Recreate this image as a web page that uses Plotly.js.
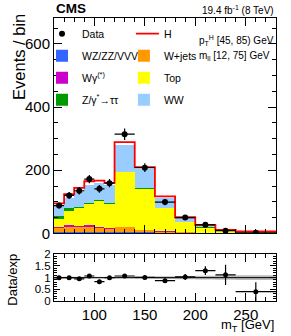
<!DOCTYPE html>
<html>
<head>
<meta charset="utf-8">
<script src="https://cdn.plot.ly/plotly-3.0.1.min.js"></script>
<style>html,body{margin:0;padding:0;background:#fff;}#chart{width:291px;height:336px;}</style>
</head>
<body>
<div id="chart"></div>
<script>
// ---- data ----
const binEdges = [60, 70, 80, 90, 100, 110, 120, 140, 160, 180, 200, 220, 240, 280];
const vvv   = [4, 4, 4, 4, 4, 4, 5, 3, 2, 1, 0.5, 0.3, 0.2];
const wjets = [13, 15, 16, 15, 12, 10, 15, 7, 3, 2, 1, 0.7, 0.3];
const wgamma= [3, 9, 4, 9, 4, 2, 1, 1, 1, 0.5, 0.5, 0, 0.1];
const topQuark = [27, 44, 56, 66, 84, 78, 172, 131, 73, 31.5, 16, 5, 2.4];
const ztt   = [9, 7, 5, 3, 3, 2, 2, 1, 1, 1, 1, 1, 1];
const ww    = [31, 34, 49, 57, 51, 56, 84, 60, 32, 12, 5, 2, 1];
const higgs = [8, 11, 10, 11, 9, 8, 10, 7, 5, 3, 2, 2, 1];
const dataY   = [88, 120, 135, 172, 141, 159, 314, 208, 99, 50, 27.5, 8.5, 2];
const dataErr = [9, 11, 12, 13, 12, 13, 18, 14, 10, 7, 5, 3, 1.5];
const ratioY   = [1.0, 1.0, 0.95, 1.07, 0.83, 1.0, 1.07, 1.01, 0.87, 1.03, 1.3, 1.12, 0.4];
const ratioErr = [0.08, 0.07, 0.07, 0.07, 0.07, 0.07, 0.05, 0.06, 0.08, 0.13, 0.19, 0.43, 0.4];
const systUnc  = [0.04, 0.04, 0.04, 0.04, 0.04, 0.04, 0.04, 0.05, 0.06, 0.07, 0.08, 0.09, 0.1];

// ---- derived ----
const centers = binEdges.slice(0, -1).map((e, i) => (e + binEdges[i + 1]) / 2);
const widths  = binEdges.slice(0, -1).map((e, i) => binEdges[i + 1] - e);
const halfW   = widths.map(w => w / 2);
const total = centers.map((_, i) => vvv[i] + wjets[i] + wgamma[i] + topQuark[i] + ztt[i] + ww[i] + higgs[i]);
const stepY = total.concat([total[total.length - 1]]);
const bandLo = systUnc.map(u => 1 - u).concat([1 - systUnc[systUnc.length - 1]]);
const bandHi = systUnc.map(u => 1 + u).concat([1 + systUnc[systUnc.length - 1]]);

const FONT = "Liberation Sans, Arial, Helvetica, sans-serif";

function bar(name, y, color, legend, rank) {
  return {
    type: 'bar', name: name, x: centers, y: y, width: widths,
    marker: { color: color, line: { width: 0 } },
    xaxis: 'x', yaxis: 'y', legend: legend, legendrank: rank, legendgroup: name,
    hoverinfo: 'skip'
  };
}

const traces = [
  bar('WZ/ZZ/VVV', vvv, '#3366ff', 'legend', 2),
  bar('W+jets', wjets, '#ff9900', 'legend2', 2),
  bar('Wγ<sup>(*)</sup>', wgamma, '#cc00cc', 'legend', 3),
  bar('Top', topQuark, '#ffff00', 'legend2', 3),
  bar('Z/γ<sup>*</sup>→ττ', ztt, '#009900', 'legend', 4),
  bar('WW', ww, '#99ccff', 'legend2', 4),
  {
    type: 'scatter', mode: 'lines', name: 'H', x: binEdges, y: stepY,
    line: { color: '#ff0000', width: 1.8, shape: 'hv' },
    xaxis: 'x', yaxis: 'y', legend: 'legend2', legendrank: 1, legendgroup: 'H'
  },
  {
    type: 'scatter', mode: 'markers', name: 'Data', x: centers, y: dataY,
    marker: { color: '#000', size: 6 },
    error_y: { type: 'data', array: dataErr, color: '#000', thickness: 1.2, width: 0 },
    error_x: { type: 'data', array: halfW, color: '#000', thickness: 1.2, width: 0 },
    xaxis: 'x', yaxis: 'y', legend: 'legend', legendrank: 1, legendgroup: 'Data'
  },
  // ratio panel
  {
    type: 'scatter', mode: 'lines', x: binEdges, y: bandLo, line: { width: 0, shape: 'hv' },
    xaxis: 'x2', yaxis: 'y2', showlegend: false, hoverinfo: 'skip'
  },
  {
    type: 'scatter', mode: 'lines', x: binEdges, y: bandHi, line: { width: 0, shape: 'hv' },
    fill: 'tonexty', fillcolor: 'rgba(140,140,140,0.6)',
    xaxis: 'x2', yaxis: 'y2', showlegend: false, hoverinfo: 'skip'
  },
  {
    type: 'scatter', mode: 'markers', x: centers, y: ratioY,
    marker: { color: '#000', size: 5 },
    error_y: { type: 'data', array: ratioErr, color: '#000', thickness: 1.2, width: 0 },
    error_x: { type: 'data', array: halfW, color: '#000', thickness: 1.2, width: 0 },
    xaxis: 'x2', yaxis: 'y2', showlegend: false
  }
];

const axBase = {
  showline: true, linecolor: '#000', linewidth: 1, mirror: 'allticks',
  ticks: 'inside', tickcolor: '#000', ticklen: 8, tickwidth: 1,
  showgrid: false, zeroline: false,
  tickfont: { family: FONT, size: 15, color: '#000' }
};

const legBase = {
  xanchor: 'left', yanchor: 'top',
  bgcolor: 'rgba(0,0,0,0)', borderwidth: 0,
  font: { family: FONT, size: 10.5, color: '#000' },
  traceorder: 'grouped', tracegroupgap: 3, itemwidth: 30, indentation: -12
};

const layout = {
  width: 291, height: 336,
  margin: { l: 54, r: 15, t: 18, b: 35 },
  paper_bgcolor: '#fff', plot_bgcolor: '#fff',
  barmode: 'stack', bargap: 0,
  showlegend: true,
  font: { family: FONT, color: '#000' },
  xaxis: Object.assign({}, axBase, {
    domain: [0, 1], anchor: 'y', range: [60, 280], tick0: 0, dtick: 50,
    showticklabels: false, matches: 'x2',
    minor: { dtick: 10, ticklen: 4, ticks: 'inside', tickcolor: '#000' }
  }),
  yaxis: Object.assign({}, axBase, {
    domain: [0.239, 1], anchor: 'x', range: [0, 682], tick0: 0, dtick: 200,
    minor: { dtick: 50, ticklen: 4, ticks: 'inside', tickcolor: '#000' }
  }),
  xaxis2: Object.assign({}, axBase, {
    domain: [0, 1], anchor: 'y2', range: [60, 280], tick0: 0, dtick: 50,
    minor: { dtick: 10, ticklen: 4, ticks: 'inside', tickcolor: '#000' }
  }),
  yaxis2: Object.assign({}, axBase, {
    domain: [0, 0.165], anchor: 'x2', range: [0, 2], tick0: 0, dtick: 0.5,
    ticklen: 6,
    tickfont: { family: FONT, size: 11.5, color: '#000' },
    minor: { dtick: 0.1, ticklen: 3, ticks: 'inside', tickcolor: '#000' }
  }),
  legend: Object.assign({}, legBase, { x: 0.0, y: 0.996 }),
  legend2: Object.assign({}, legBase, { x: 0.369, y: 0.996 }),
  shapes: [
    { type: 'line', xref: 'x2', yref: 'y2', x0: 60, x1: 280, y0: 1, y1: 1,
      line: { color: '#000', width: 1 } }
  ],
  annotations: [
    { text: '<b>CMS</b>', xref: 'paper', yref: 'paper', x: 0, y: 1, xanchor: 'left', yanchor: 'bottom',
      yshift: 0, showarrow: false, font: { family: FONT, size: 13.5, color: '#000' } },
    { text: '19.4 fb<sup>-1</sup> (8 TeV)', xref: 'paper', yref: 'paper', x: 1, y: 1, xanchor: 'right', yanchor: 'bottom',
      showarrow: false, font: { family: FONT, size: 10, color: '#000' } },
    { text: 'p<sub>T</sub><sup>H</sup> [45, 85) GeV', xref: 'paper', yref: 'paper', x: 0.645, y: 0.92,
      xanchor: 'left', yanchor: 'middle', showarrow: false, font: { family: FONT, size: 10, color: '#000' } },
    { text: 'm<sub>ll</sub> [12, 75] GeV', xref: 'paper', yref: 'paper', x: 0.645, y: 0.865,
      xanchor: 'left', yanchor: 'middle', showarrow: false, font: { family: FONT, size: 10, color: '#000' } },
    { text: 'Events / bin', xref: 'paper', yref: 'paper', x: -0.155, y: 1.02, textangle: -90,
      xanchor: 'center', yanchor: 'top', showarrow: false, font: { family: FONT, size: 16.5, color: '#000' } },
    { text: 'Data/exp', xref: 'paper', yref: 'paper', x: -0.185, y: 0.075, textangle: -90,
      xanchor: 'center', yanchor: 'middle', showarrow: false, font: { family: FONT, size: 13, color: '#000' } },
    { text: 'm<sub>T</sub> [GeV]', xref: 'paper', yref: 'paper', x: 1, y: -0.125,
      xanchor: 'right', yanchor: 'bottom', showarrow: false, font: { family: FONT, size: 13, color: '#000' } }
  ]
};

Plotly.newPlot('chart', traces, layout, { staticPlot: true, displayModeBar: false });
</script>
</body>
</html>
